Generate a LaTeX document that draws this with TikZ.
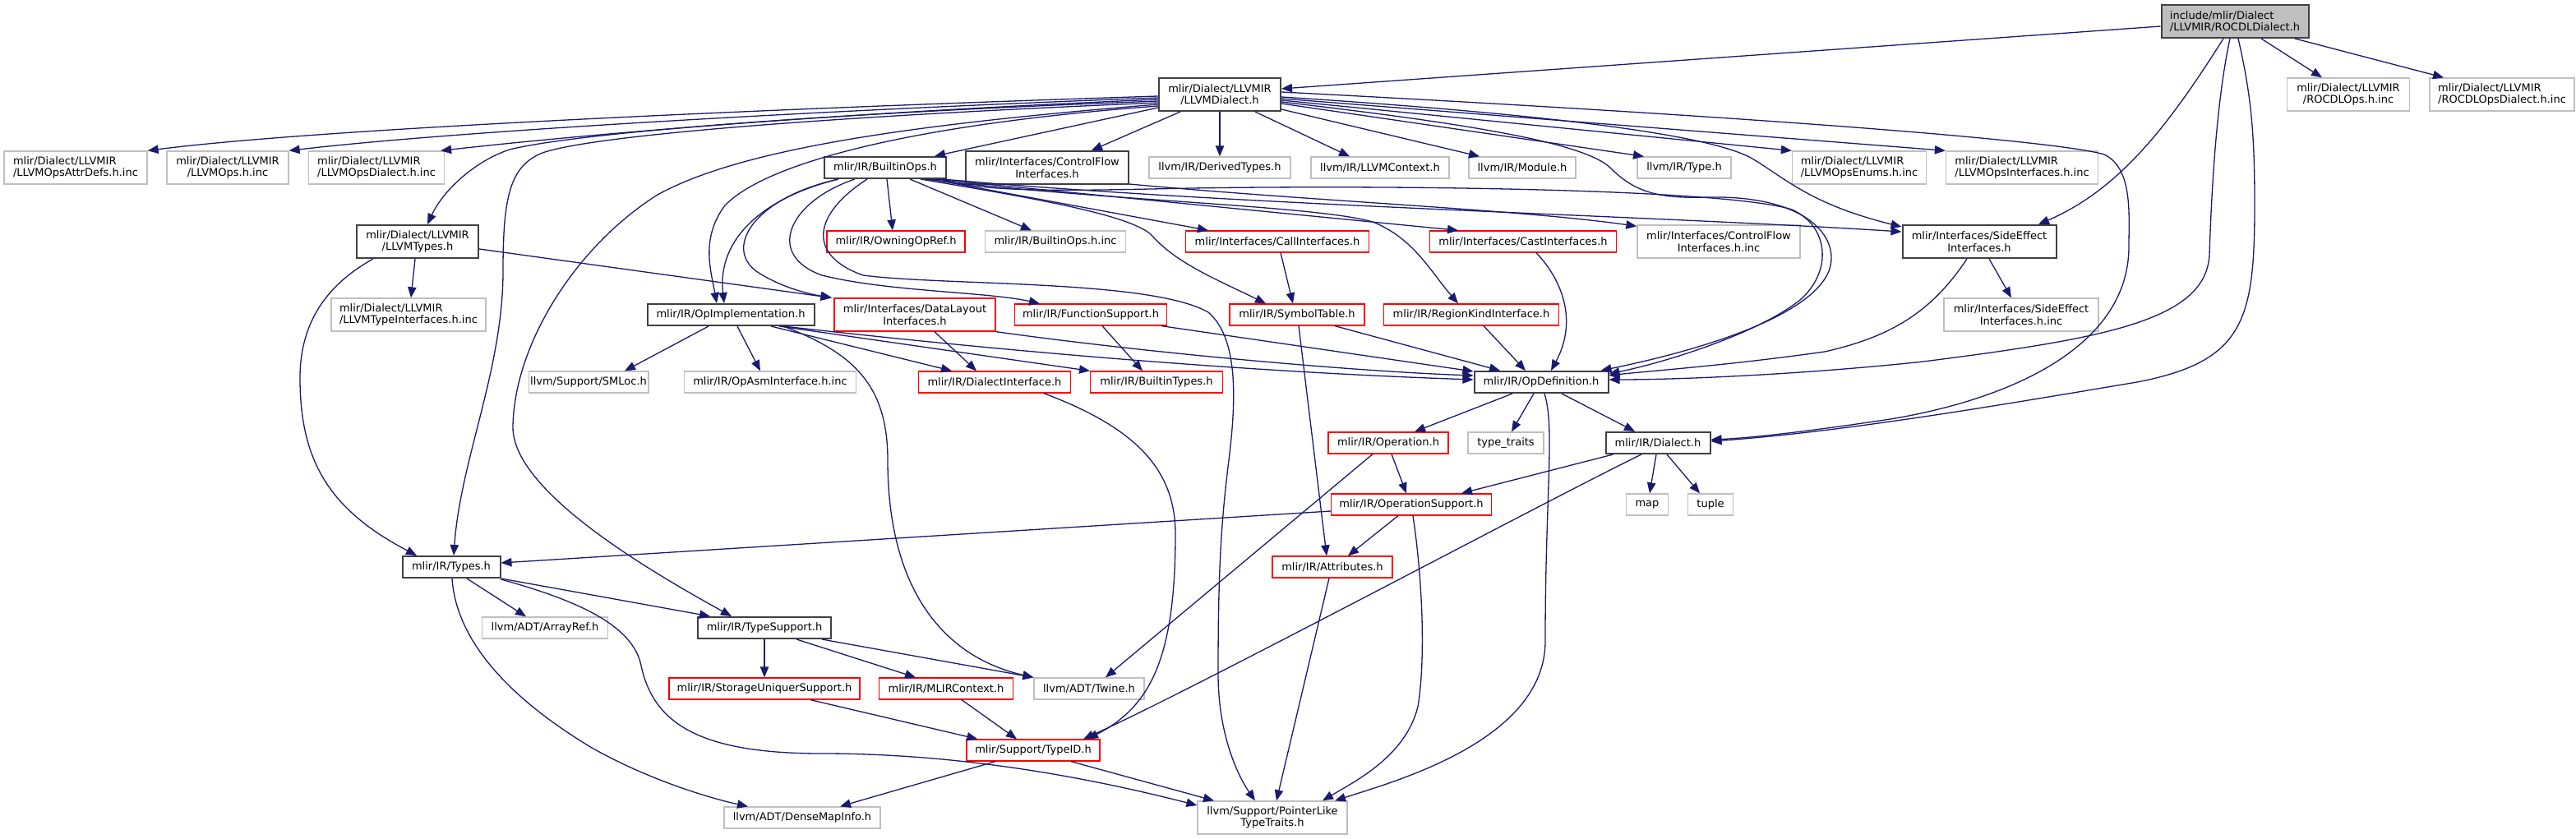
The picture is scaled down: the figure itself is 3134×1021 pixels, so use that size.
\documentclass[tikz,border=0pt]{standalone}
\usepackage{fontspec}
\setmainfont{DejaVu Sans}
\usetikzlibrary{arrows.meta,calc}
\definecolor{mblue}{RGB}{25,25,112}
\definecolor{lgray}{RGB}{191,191,191}
\definecolor{dgray}{RGB}{64,64,64}
\definecolor{rred}{RGB}{255,0,0}
\newcommand\gfont{\fontsize{6.5pt}{7.2pt}\selectfont}
\begin{document}
\begin{tikzpicture}[x=0.5pt,y=-0.5pt,
  box/.style={draw, rectangle, inner sep=1pt, font=\gfont, text=black, line width=0.65pt, minimum height=13pt},
  two/.style={minimum height=20pt},
  W/.style={minimum width=#1*0.5pt},
  leaf/.style={box, draw=lgray},
  dark/.style={box, draw=dgray, line width=1pt},
  trunc/.style={box, draw=rred},
  rootbox/.style={dark, fill=lgray},
  dep/.style={draw=mblue, line width=0.65pt, -{Triangle[length=6.5pt,width=5.2pt]}}]
\useasboundingbox (0,0) rectangle (3134,1021);
% nodes
\node[rootbox,W=179,two,align=left] (rocdl) at (2719,26) {include/mlir/Dialect\\/LLVMIR/ROCDLDialect.h};
\node[dark,W=148,two,align=center] (llvmd) at (1484,115) {mlir/Dialect/LLVMIR\\/LLVMDialect.h};
\node[leaf,W=149,two,align=center] (rocdlops) at (2857,115) {mlir/Dialect/LLVMIR\\/ROCDLOps.h.inc};
\node[leaf,W=176,two,align=left] (rocdlopsd) at (3044,115) {mlir/Dialect/LLVMIR\\/ROCDLOpsDialect.h.inc};
\node[leaf,W=174,two,align=left] (attrdefs) at (92,204) {mlir/Dialect/LLVMIR\\/LLVMOpsAttrDefs.h.inc};
\node[leaf,W=148,two,align=center] (llvmops) at (277,204) {mlir/Dialect/LLVMIR\\/LLVMOps.h.inc};
\node[leaf,W=165,two,align=left] (opsdialect) at (458,204) {mlir/Dialect/LLVMIR\\/LLVMOpsDialect.h.inc};
\node[dark,W=148] (builtinops) at (1077,204) {mlir/IR/BuiltinOps.h};
\node[dark,W=198,two,align=center] (cfi) at (1274,204) {mlir/Interfaces/ControlFlow\\Interfaces.h};
\node[leaf,W=172] (derived) at (1484,204) {llvm/IR/DerivedTypes.h};
\node[leaf,W=168] (llvmctx) at (1679,204) {llvm/IR/LLVMContext.h};
\node[leaf,W=130] (module) at (1852,204) {llvm/IR/Module.h};
\node[leaf,W=114] (type) at (2049,204) {llvm/IR/Type.h};
\node[leaf,W=163,two,align=left] (enums) at (2262,204) {mlir/Dialect/LLVMIR\\/LLVMOpsEnums.h.inc};
\node[leaf,W=185,two,align=left] (opsif) at (2460,204) {mlir/Dialect/LLVMIR\\/LLVMOpsInterfaces.h.inc};
\node[dark,W=148,two,align=center] (llvmtypes) at (508,294) {mlir/Dialect/LLVMIR\\/LLVMTypes.h};
\node[trunc,W=168] (owning) at (1090,294) {mlir/IR/OwningOpRef.h};
\node[leaf,W=171] (builtinopsinc) at (1284,294) {mlir/IR/BuiltinOps.h.inc};
\node[trunc,W=223] (callif) at (1554,294) {mlir/Interfaces/CallInterfaces.h};
\node[trunc,W=227] (castif) at (1853,294) {mlir/Interfaces/CastInterfaces.h};
\node[leaf,W=198,two,align=center] (cfiinc) at (2091,294) {mlir/Interfaces/ControlFlow\\Interfaces.h.inc};
\node[dark,W=187,two,align=center] (sei) at (2408,294) {mlir/Interfaces/SideEffect\\Interfaces.h};
\node[leaf,W=188,two,align=left] (typeif) at (497,383) {mlir/Dialect/LLVMIR\\/LLVMTypeInterfaces.h.inc};
\node[dark,W=203] (opimpl) at (889,383) {mlir/IR/OpImplementation.h};
\node[trunc,W=196,two,align=center] (dlif) at (1113,383) {mlir/Interfaces/DataLayout\\Interfaces.h};
\node[trunc,W=185] (funcsup) at (1327,383) {mlir/IR/FunctionSupport.h};
\node[trunc,W=164] (symtab) at (1578,383) {mlir/IR/SymbolTable.h};
\node[trunc,W=213] (regionkind) at (1790,383) {mlir/IR/RegionKindInterface.h};
\node[leaf,W=188,two,align=center] (seiinc) at (2459,383) {mlir/Interfaces/SideEffect\\Interfaces.h.inc};
\node[leaf,W=140] (smloc) at (716,465) {llvm/Support/SMLoc.h};
\node[leaf,W=209] (opasm) at (937,465) {mlir/IR/OpAsmInterface.h.inc};
\node[trunc,W=185] (dialectif) at (1210,465) {mlir/IR/DialectInterface.h};
\node[trunc,W=161] (builtintypes) at (1407,465) {mlir/IR/BuiltinTypes.h};
\node[dark,W=163] (opdef) at (1875,465) {mlir/IR/OpDefinition.h};
\node[trunc,W=146] (operation) at (1689,539) {mlir/IR/Operation.h};
\node[leaf,W=92] (typetraits) at (1832,539) {type\_traits};
\node[dark,W=127] (dialect) at (2017,539) {mlir/IR/Dialect.h};
\node[trunc,W=195] (opsupport) at (1717,614) {mlir/IR/OperationSupport.h};
\node[leaf,W=51] (map) at (2004,614) {map};
\node[leaf,W=55] (tuple) at (2081,614) {tuple};
\node[trunc,W=146] (attributes) at (1621,690) {mlir/IR/Attributes.h};
\node[dark,W=119] (types) at (549,690) {mlir/IR/Types.h};
\node[leaf,W=153] (arrayref) at (663,764) {llvm/ADT/ArrayRef.h};
\node[dark,W=162] (typesupport) at (930,764) {mlir/IR/TypeSupport.h};
\node[trunc,W=232] (storage) at (930,838) {mlir/IR/StorageUniquerSupport.h};
\node[trunc,W=163] (mlirctx) at (1151,838) {mlir/IR/MLIRContext.h};
\node[leaf,W=134] (twine) at (1325,838) {llvm/ADT/Twine.h};
\node[trunc,W=162] (typeid) at (1257,913) {mlir/Support/TypeID.h};
\node[leaf,W=190] (densemap) at (976,995) {llvm/ADT/DenseMapInfo.h};
\node[leaf,W=182,two,align=center] (pointerlike) at (1548,995) {llvm/Support/PointerLike\\TypeTraits.h};
% edges from ROCDLDialect.h
\draw[dep] ($(rocdl.west)+(0,6)$) -- ($(llvmd.east)+(0,-7)$);
\draw[dep] ($(rocdl.south)+(32,0)$) -- ($(rocdlops.north)+(-32,0)$);
\draw[dep] ($(rocdl.south)+(73,0)$) -- ($(rocdlopsd.north)+(-71,0)$);
\draw[dep] ($(rocdl.south)+(-14,0)$) .. controls (2640,150) and (2580,230) .. ($(sei.north)+(72,0)$);
\draw[dep] ($(rocdl.south)+(-6,0)$) .. controls (2695,130) and (2690,250) .. (2688,310) .. controls (2684,390) and (2560,412) .. (2340,440) .. controls (2200,455) and (2050,462) .. ($(opdef.east)+(0,-3)$);
\draw[dep] ($(rocdl.south)+(4,0)$) .. controls (2740,120) and (2743,170) .. (2743,250) .. controls (2743,390) and (2730,440) .. (2600,465) .. controls (2450,490) and (2250,525) .. ($(dialect.east)+(0,-2)$);
% edges from LLVMDialect.h
\draw[dep] ($(llvmd.west)+(0,2)$) .. controls (1000,130) and (400,155) .. (attrdefs.north east);
\draw[dep] ($(llvmd.west)+(0,4)$) .. controls (1000,134) and (550,160) .. (llvmops.north east);
\draw[dep] ($(llvmd.west)+(0,6)$) .. controls (1000,138) and (700,165) .. ($(opsdialect.north east)+(-5,0)$);
\draw[dep] ($(llvmd.west)+(0,8)$) .. controls (1000,138) and (700,162) .. (620,182) .. controls (580,195) and (540,230) .. ($(llvmtypes.north)+(12,0)$);
\draw[dep] ($(llvmd.west)+(0,10)$) .. controls (1000,142) and (720,165) .. (660,186) .. controls (620,202) and (612,240) .. (612,330) .. controls (612,450) and (560,560) .. ($(types.north)+(3,0)$);
\draw[dep] ($(llvmd.west)+(0,12)$) .. controls (1100,152) and (900,182) .. (800,237) .. controls (700,300) and (625,420) .. (624,520) .. controls (624,600) and (800,700) .. ($(typesupport.north)+(-40,0)$);
\draw[dep] ($(llvmd.west)+(0,14)$) .. controls (1100,152) and (930,200) .. (882,250) .. controls (852,290) and (865,330) .. ($(opimpl.north)+(-17,0)$);
\draw[dep] ($(llvmd.west)+(0,16)$) -- ($(builtinops.north)+(60,0)$);
\draw[dep] ($(llvmd.south)+(-48,0)$) -- ($(cfi.north)+(54,0)$);
\draw[dep] (llvmd.south) -- (derived.north);
\draw[dep] ($(llvmd.south)+(43,0)$) -- ($(llvmctx.north)+(-37,0)$);
\draw[dep] ($(llvmd.east)+(0,18)$) -- ($(module.north)+(-52,0)$);
\draw[dep] ($(llvmd.east)+(0,11)$) -- ($(type.north)+(-49,0)$);
\draw[dep] ($(llvmd.east)+(0,7)$) -- (enums.north west);
\draw[dep] ($(llvmd.east)+(0,5)$) -- (opsif.north west);
\draw[dep] ($(llvmd.east)+(0,3)$) .. controls (1900,140) and (2080,165) .. (2130,192) .. controls (2170,215) and (2200,248) .. ($(sei.north west)+(0,3)$);
\draw[dep] ($(llvmd.east)+(0,9)$) .. controls (1800,152) and (1930,175) .. (1960,205) .. controls (1990,235) and (2020,242) .. (2080,240) .. controls (2200,238) and (2240,290) .. (2225,330) .. controls (2200,390) and (2050,430) .. ($(opdef.north east)+(-10,0)$);
\draw[dep] ($(llvmd.east)+(0,-3)$) .. controls (2100,140) and (2500,170) .. (2560,188) .. controls (2595,205) and (2590,260) .. (2590,300) .. controls (2590,420) and (2450,485) .. (2300,510) .. controls (2200,525) and (2130,533) .. ($(dialect.east)+(0,-4)$);
% edges from BuiltinOps.h
\draw[dep] ($(builtinops.south)+(-57,0)$) .. controls (930,240) and (872,290) .. ($(opimpl.north)+(-8,0)$);
\draw[dep] ($(builtinops.south)+(-57,0)$) .. controls (920,240) and (880,300) .. (920,330) .. controls (950,350) and (985,358) .. ($(dlif.north west)+(-2,0)$);
\draw[dep] ($(builtinops.south)+(-37,0)$) .. controls (960,245) and (930,310) .. (1000,335) .. controls (1080,355) and (1200,355) .. ($(funcsup.north)+(-62,0)$);
\draw[dep] ($(builtinops.south)+(-22,0)$) .. controls (990,260) and (980,310) .. (1050,335) .. controls (1150,348) and (1400,340) .. (1470,380) .. controls (1505,410) and (1505,480) .. (1495,560) .. controls (1485,640) and (1482,700) .. (1482,820) .. controls (1482,900) and (1510,950) .. ($(pointerlike.north)+(-21,0)$);
\draw[dep] ($(builtinops.south)+(2,0)$) -- ($(owning.north)+(-4,0)$);
\draw[dep] ($(builtinops.south)+(30,0)$) -- ($(builtinopsinc.north)+(-29,0)$);
\draw[dep] ($(builtinops.south)+(55,0)$) -- ($(callif.north)+(-84,0)$);
\draw[dep] ($(builtinops.south)+(43,0)$) .. controls (1250,240) and (1370,260) .. (1400,285) .. controls (1430,320) and (1480,340) .. ($(symtab.north)+(-38,0)$);
\draw[dep] ($(builtinops.south)+(48,0)$) .. controls (1350,245) and (1600,250) .. (1670,270) .. controls (1720,290) and (1740,330) .. ($(regionkind.north)+(-16,0)$);
\draw[dep] ($(builtinops.south)+(60,0)$) -- ($(castif.north)+(-79,0)$);
\draw[dep] ($(builtinops.south east)+(-5,0)$) .. controls (1500,250) and (2000,262) .. ($(sei.west)+(0,-12)$);
\draw[dep] ($(builtinops.south east)+(-8,0)$) .. controls (1200,235) and (1300,232) .. (1450,229) .. controls (1700,225) and (2100,230) .. (2180,255) .. controls (2225,275) and (2230,330) .. (2190,365) .. controls (2140,405) and (2030,440) .. ($(opdef.east)+(0,-10)$);
% ControlFlowInterfaces.h
\draw[dep] ($(cfi.south east)+(0,-1)$) .. controls (1600,245) and (1850,255) .. ($(cfiinc.north west)+(0,2)$);
% LLVMTypes.h
\draw[dep] ($(llvmtypes.south)+(-3,0)$) -- ($(typeif.north)+(3,0)$);
\draw[dep] ($(llvmtypes.south)+(-54,0)$) .. controls (400,345) and (365,390) .. (365,460) .. controls (365,560) and (400,620) .. ($(types.north)+(-42,0)$);
\draw[dep] ($(llvmtypes.east)+(0,9)$) -- ($(dlif.north west)+(-3,0)$);
% OpImplementation.h
\draw[dep] ($(opimpl.south)+(-27,0)$) -- ($(smloc.north)+(44,0)$);
\draw[dep] ($(opimpl.south)+(8,0)$) -- ($(opasm.north)+(-12,0)$);
\draw[dep] ($(opimpl.south)+(49,0)$) -- ($(dialectif.north)+(-52,0)$);
\draw[dep] ($(opimpl.south)+(59,0)$) -- ($(builtintypes.north)+(-81,0)$);
\draw[dep] ($(opimpl.south)+(64,0)$) .. controls (1200,425) and (1500,452) .. ($(opdef.west)+(0,-3)$);
\draw[dep] ($(opimpl.south)+(64,0)$) .. controls (1040,430) and (1080,470) .. (1080,560) .. controls (1080,720) and (1150,800) .. (twine.north west);
% DataLayoutInterfaces.h, FunctionSupport.h etc.
\draw[dep] ($(dlif.south)+(24,0)$) -- ($(dialectif.north)+(-22,0)$);
\draw[dep] (dlif.south east) .. controls (1400,430) and (1650,452) .. ($(opdef.west)+(0,-8)$);
\draw[dep] ($(funcsup.south)+(14,0)$) -- ($(builtintypes.north)+(-17,0)$);
\draw[dep] ($(funcsup.south east)+(-7,0)$) -- ($(opdef.west)+(0,-13)$);
\draw[dep] ($(callif.south)+(4,0)$) -- ($(symtab.north)+(-5,0)$);
\draw[dep] ($(symtab.south)+(2,0)$) -- ($(attributes.north)+(-7,0)$);
\draw[dep] ($(symtab.south)+(46,0)$) -- ($(opdef.north)+(-50,0)$);
\draw[dep] ($(regionkind.south)+(15,0)$) -- ($(opdef.north)+(-19,0)$);
\draw[dep] ($(castif.south)+(16,0)$) .. controls (1900,340) and (1920,390) .. ($(opdef.north)+(12,0)$);
\draw[dep] ($(sei.south)+(12,0)$) -- ($(seiinc.north)+(-12,0)$);
\draw[dep] ($(sei.south)+(-15,0)$) .. controls (2350,380) and (2300,410) .. (2220,428) .. controls (2100,445) and (2000,452) .. ($(opdef.east)+(0,-8)$);
\draw[dep] ($(dialectif.south)+(60,0)$) .. controls (1380,520) and (1430,570) .. (1430,650) .. controls (1430,800) and (1400,860) .. ($(typeid.north)+(66,0)$);
% OpDefinition.h
\draw[dep] ($(opdef.south)+(-35,0)$) -- ($(operation.north)+(32,0)$);
\draw[dep] ($(opdef.south)+(-9,0)$) -- ($(typetraits.north)+(7,0)$);
\draw[dep] ($(opdef.south)+(4,0)$) .. controls (1892,520) and (1880,600) .. (1880,780) .. controls (1880,900) and (1700,950) .. ($(pointerlike.north)+(76,0)$);
\draw[dep] ($(opdef.south)+(25,0)$) -- ($(dialect.north)+(-28,0)$);
% Operation.h, Dialect.h
\draw[dep] ($(operation.south)+(-19,0)$) -- ($(twine.north)+(20,0)$);
\draw[dep] ($(operation.south)+(4,0)$) -- ($(opsupport.north)+(-6,0)$);
\draw[dep] ($(dialect.south west)+(10,0)$) -- ($(opsupport.north)+(61,0)$);
\draw[dep] ($(dialect.south)+(-20,0)$) .. controls (1880,610) and (1450,840) .. ($(typeid.north)+(61,0)$);
\draw[dep] ($(dialect.south)+(-2,0)$) -- ($(map.north)+(3,0)$);
\draw[dep] ($(dialect.south)+(11,0)$) -- ($(tuple.north)+(-13,0)$);
% OperationSupport.h, Attributes.h
\draw[dep] ($(opsupport.south)+(-16,0)$) -- ($(attributes.north)+(19,0)$);
\draw[dep] ($(opsupport.south)+(2,0)$) .. controls (1730,700) and (1735,800) .. (1725,860) .. controls (1710,920) and (1650,950) .. ($(pointerlike.north)+(61,0)$);
\draw[dep] ($(opsupport.west)+(0,8)$) -- ($(types.east)+(0,-5)$);
\draw[dep] ($(attributes.south)+(-4,0)$) -- ($(pointerlike.north)+(5,0)$);
% Types.h
\draw[dep] ($(types.south)+(19,0)$) -- ($(arrayref.north)+(-23,0)$);
\draw[dep] (types.south east) -- ($(typesupport.north)+(-66,0)$);
\draw[dep] ($(types.south)+(1,0)$) .. controls (555,780) and (620,850) .. (720,910) .. controls (800,955) and (880,975) .. ($(densemap.north)+(-66,0)$);
\draw[dep] ($(types.south east)+(0,1)$) .. controls (700,730) and (770,760) .. (780,810) .. controls (795,880) and (850,917) .. (1000,917) .. controls (1150,917) and (1300,940) .. ($(pointerlike.west)+(0,-15)$);
% TypeSupport.h and below
\draw[dep] (typesupport.south) -- (storage.north);
\draw[dep] ($(typesupport.south)+(39,0)$) -- ($(mlirctx.north)+(-37,0)$);
\draw[dep] ($(typesupport.south)+(70,0)$) -- (twine.north west);
\draw[dep] ($(storage.south)+(56,0)$) -- ($(typeid.north west)+(14,0)$);
\draw[dep] ($(mlirctx.south)+(19,0)$) -- ($(typeid.north)+(-20,0)$);
\draw[dep] ($(typeid.south)+(46,0)$) -- ($(pointerlike.north)+(-71,0)$);
\draw[dep] ($(typeid.south)+(-46,0)$) -- ($(densemap.north)+(46,0)$);
\end{tikzpicture}
\end{document}
